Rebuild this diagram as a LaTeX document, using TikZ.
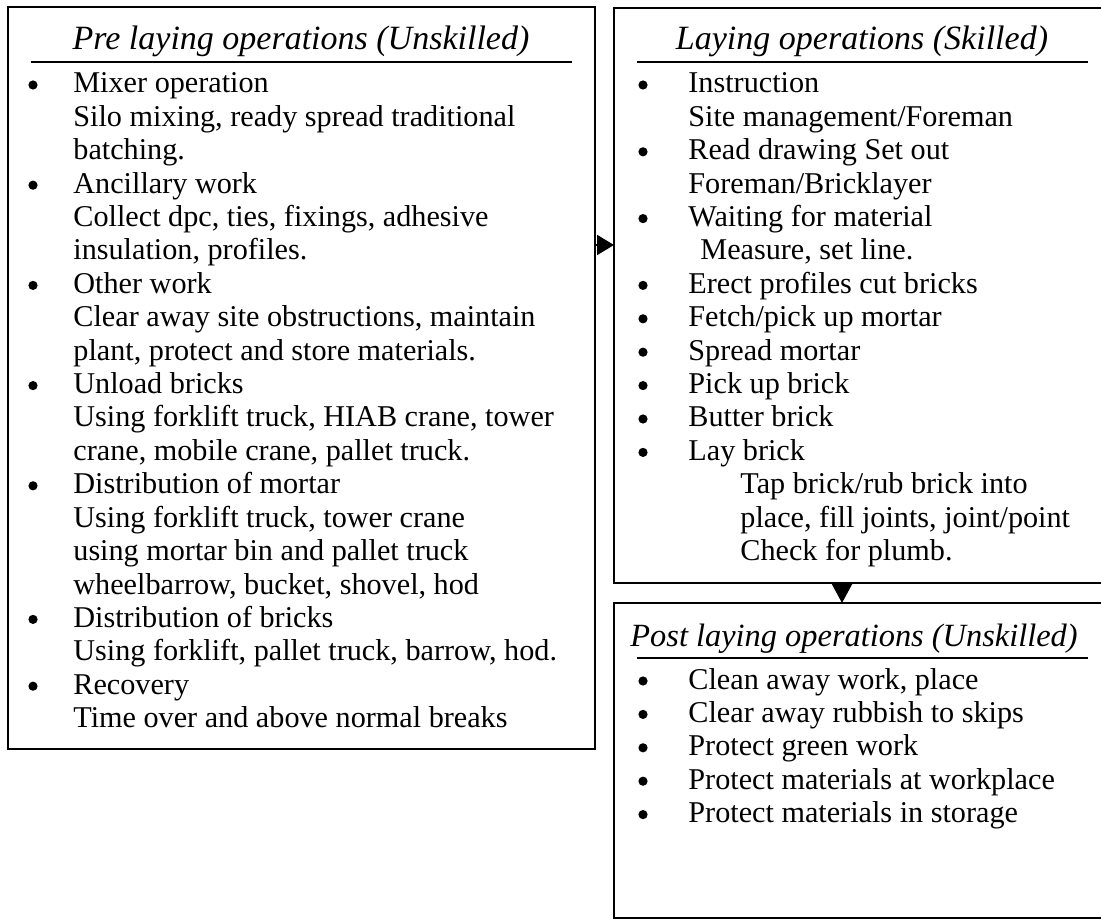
\documentclass[tikz,border=0pt]{standalone}
\usepackage{fontspec}
\setmainfont{Liberation Serif}
\usetikzlibrary{arrows.meta}
\begin{document}
\begin{tikzpicture}[x=0.5pt,y=-0.5pt,
  box/.style={draw, line width=1pt, rectangle, outer sep=0pt, inner sep=0pt, anchor=north west},
  body/.style={anchor=base west, inner sep=0pt, font=\fontsize{15.1}{18}\selectfont},
  dot/.style={circle, fill=black, inner sep=0pt, minimum size=4.6pt},
  ttl/.style={anchor=base, inner sep=0pt, font=\fontsize{17}{20}\selectfont\itshape},
  rule/.style={line width=1pt},
  tip/.style={line width=1pt, -{Triangle[length=#1]}}]
\useasboundingbox (0,0) rectangle (1101,924);
% boxes
\node[box, minimum width=293.5pt, minimum height=371pt] (pre) at (8,7) {};
\node[box, minimum width=247.5pt, minimum height=287.5pt] (lay) at (614,8) {};
\node[box, minimum width=247.5pt, minimum height=157.5pt] (post) at (614,603) {};
% titles
\node[ttl] (t1) at (301,50) {Pre laying operations (Unskilled)};
\draw[rule] (31,62) -- (572,62);
\node[ttl] (t2) at (862,50) {Laying operations (Skilled)};
\draw[rule] (637,62) -- (1088,62);
\node[ttl, anchor=base west, font=\fontsize{16.2}{19}\selectfont\itshape] (t3) at (630,646) {Post laying operations (Unskilled)};
\draw[rule] (637,658) -- (1088,658);
% left box text
\foreach \t [count=\i] in {{Mixer operation},{Silo mixing, ready spread traditional},{batching.},
  {Ancillary work},{Collect dpc, ties, fixings, adhesive},{insulation, profiles.},
  {Other work},{Clear away site obstructions, maintain},{plant, protect and store materials.},
  {Unload bricks},{Using forklift truck, HIAB crane, tower},{crane, mobile crane, pallet truck.},
  {Distribution of mortar},{Using forklift truck, tower crane},{using mortar bin and pallet truck},{wheelbarrow, bucket, shovel, hod},
  {Distribution of bricks},{Using forklift, pallet truck, barrow, hod.},
  {Recovery},{Time over and above normal breaks}}
  \node[body] (L\i) at (73,{93+33.4*(\i-1)}) {\t};
\foreach \i in {1,4,7,10,13,17,19}
  \node[dot] (LB\i) at (33,{85+33.4*(\i-1)}) {};
% right top text
\foreach \t [count=\i] in {{Instruction},{Site management/Foreman},{Read drawing Set out},{Foreman/Bricklayer},
  {Waiting for material}}
  \node[body] (R\i) at (688,{93+33.4*(\i-1)}) {\t};
\node[body] (R6) at (700,{93+33.4*5}) {Measure, set line.};
\foreach \t [count=\i from 7] in {{Erect profiles cut bricks},{Fetch/pick up mortar},{Spread mortar},{Pick up brick},{Butter brick},{Lay brick}}
  \node[body] (R\i) at (688,{93+33.4*(\i-1)}) {\t};
\foreach \t [count=\i from 13] in {{Tap brick/rub brick into},{place, fill joints, joint/point},{Check for plumb.}}
  \node[body] (R\i) at (740,{93+33.4*(\i-1)}) {\t};
\foreach \i in {1,3,5,7,8,9,10,11,12}
  \node[dot] (RB\i) at (643,{85+33.4*(\i-1)}) {};
% bottom right text
\foreach \t [count=\i] in {{Clean away work, place},{Clear away rubbish to skips},{Protect green work},{Protect materials at workplace},{Protect materials in storage}}
  {\node[body] (P\i) at (688,{689+33.4*(\i-1)}) {\t};
   \node[dot] (PB\i) at (643,{681+33.4*(\i-1)}) {};}
% connectors
\coordinate (a1) at (600,245);
\draw[tip={8.5pt,width=10pt}] (pre.east |- a1) -- (lay.west |- a1);
\coordinate (a2) at (842,590);
\draw[tip={9.5pt,width=10pt}] (lay.south -| a2) -- (post.north -| a2);
\end{tikzpicture}
\end{document}
